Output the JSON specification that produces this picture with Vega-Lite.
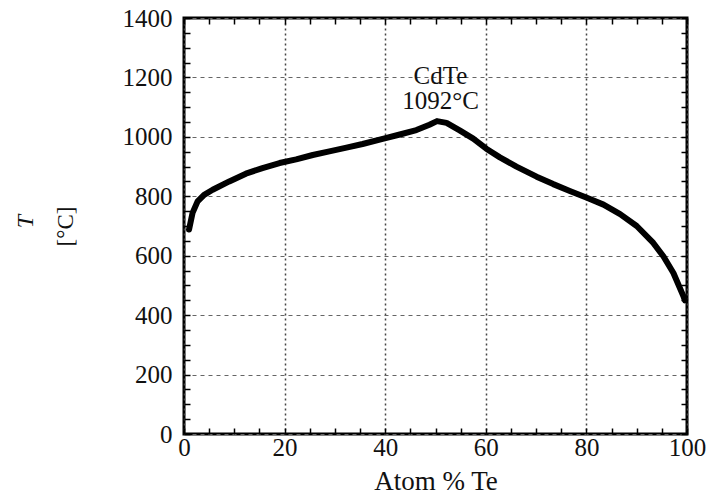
{
  "$schema": "https://vega.github.io/schema/vega-lite/v6.json",
  "width": 503,
  "height": 416,
  "autosize": {"type": "none"},
  "padding": {"left": 184, "top": 18, "right": 25, "bottom": 64},
  "background": "white",
  "config": {
    "view": {"stroke": "black", "strokeWidth": 3},
    "font": "Liberation Serif",
    "axis": {"labelFont": "Liberation Serif", "titleFont": "Liberation Serif", "labelColor": "#111", "titleColor": "#111", "domain": false}
  },
  "datasets": {
    "curve": [
      {"x": 1.0, "y": 688}, {"x": 1.7, "y": 744}, {"x": 2.7, "y": 783}, {"x": 4.0, "y": 805},
      {"x": 5.7, "y": 822}, {"x": 9.0, "y": 850}, {"x": 12.3, "y": 876}, {"x": 15.6, "y": 895},
      {"x": 19.0, "y": 912}, {"x": 22.3, "y": 924}, {"x": 25.6, "y": 939}, {"x": 28.9, "y": 951},
      {"x": 32.3, "y": 964}, {"x": 35.5, "y": 976}, {"x": 39.5, "y": 993}, {"x": 42.9, "y": 1008},
      {"x": 46.2, "y": 1023}, {"x": 48.8, "y": 1041}, {"x": 50.3, "y": 1053}, {"x": 52.2, "y": 1047},
      {"x": 54.8, "y": 1022}, {"x": 57.5, "y": 994}, {"x": 60.1, "y": 960}, {"x": 62.8, "y": 931},
      {"x": 66.1, "y": 900}, {"x": 70.1, "y": 866}, {"x": 73.4, "y": 841}, {"x": 76.7, "y": 818},
      {"x": 80.1, "y": 795}, {"x": 83.4, "y": 772}, {"x": 86.7, "y": 740}, {"x": 90.0, "y": 700},
      {"x": 93.3, "y": 643}, {"x": 95.3, "y": 598}, {"x": 97.3, "y": 542}, {"x": 99.3, "y": 463},
      {"x": 99.6, "y": 450}
    ]
  },
  "layer": [
    {
      "data": {"name": "curve"},
      "mark": {"type": "line", "color": "black", "strokeWidth": 6, "strokeCap": "round", "strokeJoin": "round"},
      "encoding": {
        "x": {
          "field": "x", "type": "quantitative",
          "scale": {"domain": [0, 100], "nice": false, "zero": false},
          "axis": {
            "orient": "bottom",
            "title": "Atom % Te", "titleFontSize": 27, "titleFontWeight": "normal", "titlePadding": 8,
            "values": [0,20,40,60,80,100],
            "labelFontSize": 25, "labelPadding": 1, "labelFlush": false, "labelOverlap": false,
            "ticks": false,
            "grid": true,
            "gridColor": "#444", "gridWidth": 1.5, "gridDash": [2, 3]
          }
        },
        "y": {
          "field": "y", "type": "quantitative",
          "scale": {"domain": [0, 1400], "nice": false, "zero": false},
          "axis": {
            "orient": "left",
            "title": "[°C]", "titleFontSize": 23, "titleFontWeight": "normal", "titlePadding": 45,
            "values": [0,200,400,600,800,1000,1200,1400],
            "format": "d",
            "labelFontSize": 25, "labelPadding": 12, "labelFlush": false, "labelOverlap": false,
            "ticks": false,
            "grid": true,
            "gridColor": "#666", "gridWidth": 1.2, "gridDash": [4, 4]
          }
        }
      }
    },
    {
      "data": {"name": "curve"},
      "mark": {"type": "line", "opacity": 0},
      "encoding": {
        "x": {
          "field": "x", "type": "quantitative",
          "scale": {"domain": [0, 100], "nice": false, "zero": false},
          "axis": {
            "orient": "bottom", "title": null, "labels": false, "grid": false, "ticks": true, "tickSize": -6,
            "values": [0,5,10,15,20,25,30,35,40,45,50,55,60,65,70,75,80,85,90,95,100],
            "tickColor": "black", "tickWidth": 1.5
          }
        },
        "y": {
          "field": "y", "type": "quantitative",
          "scale": {"domain": [0, 1400], "nice": false, "zero": false},
          "axis": {
            "orient": "left", "labels": false, "grid": false, "ticks": true, "tickSize": -6,
            "title": "T", "titleFontSize": 24, "titleFontStyle": "italic", "titleFontWeight": "normal",
            "titleAngle": 270, "titleAlign": "center", "titleBaseline": "middle",
            "titleX": -159, "titleY": 203,
            "values": [0,50,100,150,200,250,300,350,400,450,500,550,600,650,700,750,800,850,900,950,1000,1050,1100,1150,1200,1250,1300,1350,1400],
            "tickColor": "black", "tickWidth": 1.5
          }
        }
      }
    },
    {
      "data": {"name": "curve"},
      "mark": {"type": "line", "opacity": 0},
      "encoding": {
        "x": {
          "field": "x", "type": "quantitative",
          "scale": {"domain": [0, 100], "nice": false, "zero": false},
          "axis": {
            "orient": "top", "labels": false, "grid": false, "ticks": true, "tickSize": -6,
            "title": ["CdTe", "1092°C"], "titleFontSize": 25, "titleFontWeight": "normal",
            "titleAlign": "center", "titleBaseline": "top", "titleLineHeight": 25,
            "titleX": 256, "titleY": 45,
            "values": [0,5,10,15,20,25,30,35,40,45,50,55,60,65,70,75,80,85,90,95,100],
            "tickColor": "black", "tickWidth": 1.5
          }
        },
        "y": {
          "field": "y", "type": "quantitative",
          "scale": {"domain": [0, 1400], "nice": false, "zero": false},
          "axis": {
            "orient": "right", "title": null, "labels": false, "grid": false, "ticks": true, "tickSize": -6,
            "values": [0,50,100,150,200,250,300,350,400,450,500,550,600,650,700,750,800,850,900,950,1000,1050,1100,1150,1200,1250,1300,1350,1400],
            "tickColor": "black", "tickWidth": 1.5
          }
        }
      }
    }
  ],
  "resolve": {"axis": {"x": "independent", "y": "independent"}}
}
